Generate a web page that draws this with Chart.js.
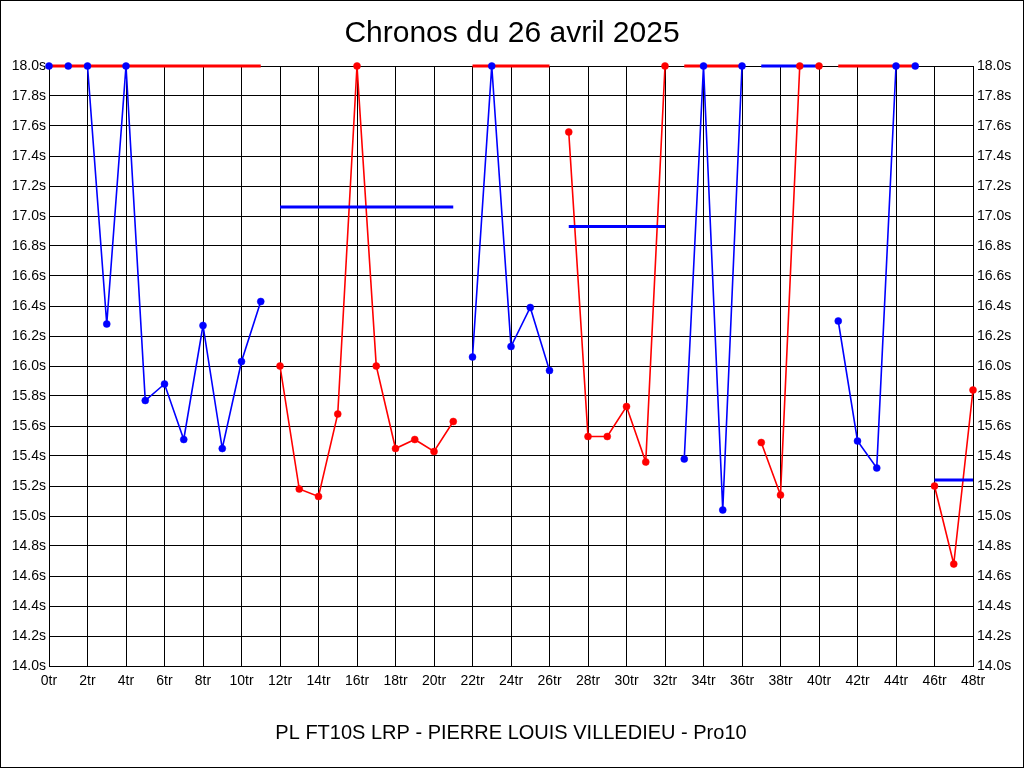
<!DOCTYPE html>
<html>
<head>
<meta charset="utf-8">
<script src="https://cdn.jsdelivr.net/npm/chart.js@4.4.1/dist/chart.umd.min.js"></script>
<style>
  html, body { margin: 0; padding: 0; background: #fff; }
  canvas { display: block; }
</style>
</head>
<body>
<canvas id="myChart" width="1024" height="768"></canvas>
<script>
// one time per lap (tr), anything slower than 18s is shown at 18.0
const lapTimes = [
  18.0, 18.0, 18.0, 16.28, 18.0, 15.77, 15.88, 15.51, 16.27, 15.45, 16.03, 16.43,
  16.00, 15.18, 15.13, 15.68, 18.0, 16.00, 15.45, 15.51, 15.43, 15.63,
  16.06, 18.0, 16.13, 16.39, 15.97,
  17.56, 15.53, 15.53, 15.73, 15.36, 18.0,
  15.38, 18.0, 15.04, 18.0,
  15.49, 15.14, 18.0, 18.0,
  16.30, 15.50, 15.32, 18.0, 18.0,
  15.20, 14.68, 15.84
];
// runs alternate blue / red
const runStart = [0, 12, 22, 27, 33, 37, 41, 46];
const runEnd   = [11, 21, 26, 32, 36, 40, 45, 48];
const runMean  = [18.0, 17.06, 18.0, 16.93, 18.0, 18.0, 18.0, 15.24];

const BLUE = '#0000ff';
const RED = '#ff0000';
const FONT = "'Liberation Sans', Arial, sans-serif";

const datasets = [];
runStart.forEach((start, i) => {
  const colour = i % 2 === 0 ? BLUE : RED;
  const other = i % 2 === 0 ? RED : BLUE;
  const pts = [];
  for (let lap = start; lap <= runEnd[i]; lap++) {
    pts.push({x: lap, y: lapTimes[lap]});
  }
  // thin line of the run
  datasets.push({data: pts, borderColor: colour, borderWidth: 1.6, pointRadius: 0, order: 3, clip: false});
  // mean of the run
  datasets.push({
    data: [{x: start, y: runMean[i]}, {x: runEnd[i], y: runMean[i]}],
    borderColor: other, borderWidth: 3, pointRadius: 0, order: 2, clip: false
  });
  // dots on top
  datasets.push({
    data: pts, showLine: false, pointRadius: 3.5, pointBorderWidth: 0.5,
    pointBackgroundColor: colour, pointBorderColor: colour, order: 1, clip: false
  });
});

const frame = {
  id: 'frame',
  beforeDraw(chart) {
    const ctx = chart.ctx;
    ctx.save();
    ctx.fillStyle = '#fff';
    ctx.fillRect(0, 0, chart.width, chart.height);
    ctx.strokeStyle = '#000';
    ctx.lineWidth = 1;
    ctx.strokeRect(0.5, 0.5, chart.width - 1, chart.height - 1);
    ctx.restore();
  }
};

const yTicks = (pad) => ({
  stepSize: 0.2, color: '#000', padding: pad,
  font: {family: FONT, size: 14},
  callback: v => Number(v).toFixed(1) + 's'
});

new Chart(document.getElementById('myChart').getContext('2d'), {
  type: 'line',
  data: {datasets: datasets},
  plugins: [frame],
  options: {
    responsive: false,
    animation: false,
    events: [],
    layout: {padding: 0},
    plugins: {
      legend: {display: false},
      tooltip: {enabled: false},
      title: {
        display: true,
        text: 'Chronos du 26 avril 2025',
        color: '#000',
        font: {family: FONT, size: 30, weight: 'normal', lineHeight: 1.2},
        padding: {top: 15.5, bottom: 14.5}
      }
    },
    scales: {
      x: {
        type: 'linear', min: 0, max: 48,
        grid: {color: '#000', drawTicks: false},
        border: {color: '#000'},
        ticks: {
          stepSize: 2, autoSkip: false, maxRotation: 0, padding: 7, color: '#000',
          font: {family: FONT, size: 14},
          callback: v => v + 'tr'
        },
        title: {
          display: true,
          text: 'PL FT10S LRP - PIERRE LOUIS VILLEDIEU - Pro10',
          color: '#000',
          font: {family: FONT, size: 20, lineHeight: 1.2},
          padding: {top: 0, bottom: 22.5}
        },
        afterFit: s => { s.height = 102; }
      },
      y: {
        position: 'left', min: 14, max: 18,
        grid: {color: '#000', drawTicks: false},
        border: {color: '#000'},
        ticks: yTicks(3),
        afterFit: s => { s.width = 49; }
      },
      y2: {
        position: 'right', min: 14, max: 18,
        grid: {display: false, drawTicks: false},
        border: {color: '#000'},
        ticks: yTicks(4),
        afterFit: s => { s.width = 51; }
      }
    }
  }
});
</script>
</body>
</html>
